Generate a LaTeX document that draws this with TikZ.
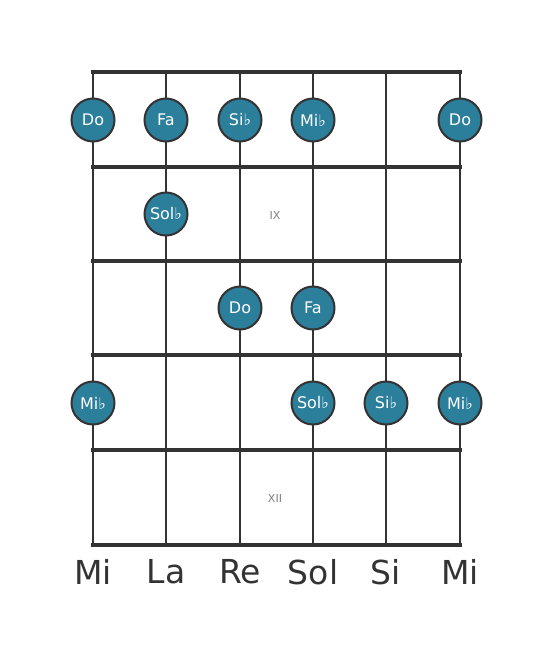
\documentclass[tikz,border=0pt]{standalone}
\usepackage{fontspec}
\setmainfont{DejaVu Sans}
\definecolor{dotfill}{HTML}{2B7F9B}
\definecolor{linec}{HTML}{333333}
\begin{document}
\begin{tikzpicture}[x=1pt,y=-1pt,
  fret/.style={draw=linec,line width=4.5pt},
  strg/.style={draw=linec,line width=2.8pt},
  note/.style={circle,draw=linec,line width=2pt,fill=dotfill,minimum size=43pt,inner sep=0pt,text=white,font=\fontsize{16}{16}\selectfont},
  fretnum/.style={text=gray,font=\fontsize{11}{11}\selectfont},
  strname/.style={text=linec,font=\fontsize{33}{33}\selectfont}]
\useasboundingbox (0,0) rectangle (553,656);
% strings
\foreach \x [count=\i] in {93,166,240,313,386,460}{
  \coordinate (st\i) at (\x,72);
  \coordinate (sb\i) at (\x,545);
  \draw[strg] (st\i) -- (sb\i);
}
% frets
\foreach \y [count=\j] in {72,167,261,355,450,545}{
  \coordinate (fl\j) at (93,\y);
  \coordinate (fr\j) at (460,\y);
  \draw[fret,line cap=rect] (fl\j) -- (fr\j);
}
\node[fretnum] (ix) at (275,215) {IX};
\node[fretnum] (xii) at (275,498) {XII};
% notes
\node[note] (n1) at (93,120) {Do};
\node[note] (n2) at (166,120) {Fa};
\node[note] (n3) at (240,120) {Si♭};
\node[note] (n4) at (313,120) {Mi♭};
\node[note] (n5) at (460,120) {Do};
\node[note] (n6) at (166,214) {Sol♭};
\node[note] (n7) at (240,308) {Do};
\node[note] (n8) at (313,308) {Fa};
\node[note] (n9) at (93,403) {Mi♭};
\node[note] (n10) at (313,403) {Sol♭};
\node[note] (n11) at (386,403) {Si♭};
\node[note] (n12) at (460,403) {Mi♭};
% string names
\node[strname] (s1) at (93,572) {Mi};
\node[strname] (s2) at (166,572) {La};
\node[strname] (s3) at (240,572) {Re};
\node[strname] (s4) at (313,572) {Sol};
\node[strname] (s5) at (386,572) {Si};
\node[strname] (s6) at (460,572) {Mi};
\end{tikzpicture}
\end{document}
